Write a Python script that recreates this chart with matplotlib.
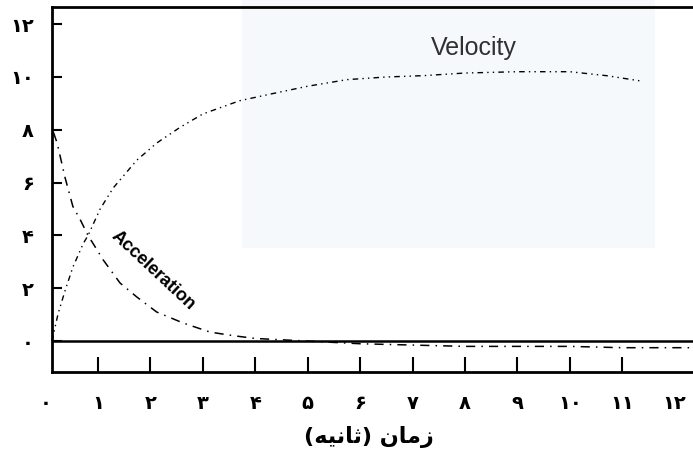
import matplotlib
matplotlib.use("Agg")
import matplotlib.pyplot as plt
from matplotlib.patches import Rectangle

# velocity curve (time in s, value)
vel_t = [0.12, 0.24, 0.37, 0.52, 0.72, 0.81, 1.04, 1.29, 1.74, 2.12, 2.57, 3.0,
         3.7, 4.4, 5.0, 5.75, 6.5, 7.2, 8.0, 9.0, 10.0, 10.7, 11.35]
vel_v = [0.0, 1.05, 1.9, 2.8, 3.7, 4.0, 5.0, 5.8, 6.85, 7.5, 8.1, 8.6,
         9.1, 9.4, 9.65, 9.9, 10.0, 10.05, 10.15, 10.2, 10.2, 10.05, 9.85]

# acceleration curve
acc_t = [0.15, 0.22, 0.37, 0.52, 0.66, 0.81, 1.1, 1.42, 1.74, 2.12, 2.63, 3.14,
         3.6, 4.0, 4.5, 5.0, 6.0, 7.0, 8.0, 9.0, 10.0, 11.0, 12.35]
acc_a = [7.9, 7.5, 6.2, 5.1, 4.6, 4.0, 3.07, 2.2, 1.67, 1.1, 0.68, 0.34,
         0.2, 0.1, 0.05, 0.0, -0.1, -0.15, -0.2, -0.2, -0.2, -0.25, -0.25]

fa_digits = "۰۱۲۳۴۵۶۷۸۹"
x_ticks = list(range(0, 13))
y_ticks = list(range(0, 13, 2))


def to_fa(n):
    return "".join(fa_digits[int(c)] for c in str(n))


# "زمان (ثانیه)" written in visual order with shaped letters
x_label = "(\ufeea\ufbff\ufee7\ufe8e\ufe9b) \ufee5\ufe8e\ufee3\ufeaf"

fig = plt.figure(figsize=(6.93, 4.5), dpi=100)
# faint watermark panel of the scan, kept behind the axes
fig.patches.append(Rectangle((242 / 693, 1 - 248 / 450), 413 / 693, 248 / 450,
                             transform=fig.transFigure, facecolor="#f6f9fc",
                             edgecolor="none", zorder=-5))

ax = fig.add_axes([45.6 / 693, 78 / 450, (693 - 45.6) / 693, 365 / 450])
ax.set_facecolor("none")

ax.plot(vel_t, vel_v, color="black", lw=1.0, linestyle=(0, (4, 3, 1, 3, 1, 3)))
ax.plot(acc_t, acc_a, color="black", lw=1.1, linestyle=(0, (6, 4, 1, 4)))
ax.hlines(0, 0.12, 12.35, color="black", lw=1.8)

ax.set_xlim(0, 12.35)
ax.set_ylim(-1.17, 12.65)

for s in ["top", "left", "bottom"]:
    ax.spines[s].set_linewidth(2)
ax.spines["right"].set_visible(False)
ax.spines["left"].set_position(("data", 0.12))
ax.spines["top"].set_bounds(0.12, 12.35)
ax.spines["bottom"].set_bounds(0.12, 12.35)

ax.set_xticks(x_ticks)
ax.set_xticklabels([to_fa(v) for v in x_ticks], fontsize=14, fontweight="bold",
                   family="DejaVu Sans")
ax.set_yticks(y_ticks)
ax.set_yticklabels([to_fa(v) for v in y_ticks], fontsize=14, fontweight="bold",
                   family="DejaVu Sans")
ax.tick_params(axis="x", direction="in", length=11, width=1.5, pad=16)
ax.tick_params(axis="y", direction="in", length=7, width=1.5, pad=13)
xt = ax.xaxis.get_major_ticks()
xt[0].tick1line.set_visible(False)
xt[-1].tick1line.set_visible(False)

ax.set_xlabel(x_label, fontsize=16, fontweight="bold", family="DejaVu Sans",
              labelpad=9)

ax.text(8.16, 11.1, "Velocity", fontsize=18, color="#303030",
        family="Liberation Sans", ha="center", va="center")
ax.text(2.05, 2.69, "Acceleration", fontsize=13, rotation=-43, fontweight="bold",
        family="Liberation Sans", ha="center", va="center",
        rotation_mode="anchor")

fig.savefig("out.png", dpi=100)
